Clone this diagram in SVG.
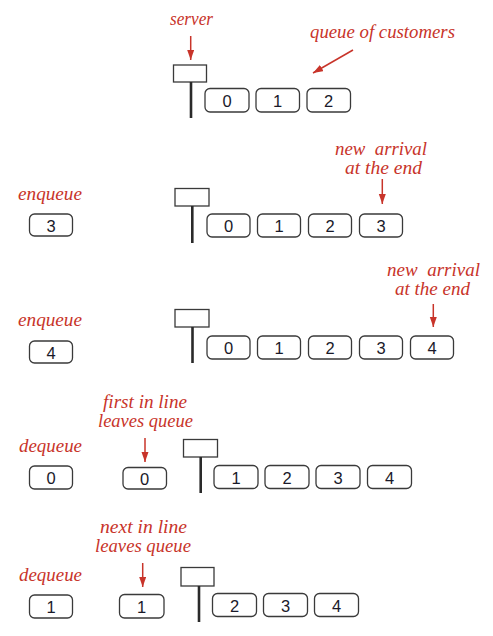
<svg xmlns="http://www.w3.org/2000/svg" width="493" height="636" viewBox="0 0 493 636">
<style>
.lbl{font-family:"Liberation Serif","DejaVu Serif",serif;font-style:italic;font-size:19px;fill:#c8342a}
.num{font-family:"Liberation Sans","DejaVu Sans",sans-serif;font-size:16.5px;fill:#1a1a2a;text-anchor:middle}
.cell{fill:#fff;stroke:#3a3a3a;stroke-width:1.3}
.srv{fill:#fff;stroke:#3a3a3a;stroke-width:1.3}
.pole{stroke:#2a2a2a;stroke-width:2.6}
.arr{stroke:#c8342a;stroke-width:1.5;fill:none}
</style>
<defs>
<marker id="ah" markerUnits="userSpaceOnUse" markerWidth="11" markerHeight="10" refX="10" refY="3.5" orient="auto">
<path d="M0,0 L10,3.5 L0,7 Z" fill="#c8342a"/>
</marker>
</defs>
<rect width="493" height="636" fill="#fff"/>

<g id="labels">
<text class="lbl" x="170" y="25" textLength="43" lengthAdjust="spacingAndGlyphs">server</text>
<text class="lbl" x="310" y="38" textLength="145" lengthAdjust="spacingAndGlyphs">queue of customers</text>
<text class="lbl" x="18" y="200" textLength="64" lengthAdjust="spacingAndGlyphs">enqueue</text>
<text class="lbl" x="335" y="155" textLength="92" lengthAdjust="spacingAndGlyphs" xml:space="preserve">new  arrival</text>
<text class="lbl" x="345" y="174" textLength="77" lengthAdjust="spacingAndGlyphs">at the end</text>
<text class="lbl" x="18" y="326" textLength="64" lengthAdjust="spacingAndGlyphs">enqueue</text>
<text class="lbl" x="387" y="276" textLength="93" lengthAdjust="spacingAndGlyphs" xml:space="preserve">new  arrival</text>
<text class="lbl" x="395" y="295" textLength="75" lengthAdjust="spacingAndGlyphs">at the end</text>
<text class="lbl" x="19" y="452" textLength="63" lengthAdjust="spacingAndGlyphs">dequeue</text>
<text class="lbl" x="103" y="408" textLength="84" lengthAdjust="spacingAndGlyphs">first in line</text>
<text class="lbl" x="98" y="427" textLength="95" lengthAdjust="spacingAndGlyphs">leaves queue</text>
<text class="lbl" x="19" y="581" textLength="63" lengthAdjust="spacingAndGlyphs">dequeue</text>
<text class="lbl" x="100" y="533" textLength="87" lengthAdjust="spacingAndGlyphs">next in line</text>
<text class="lbl" x="95" y="552" textLength="96" lengthAdjust="spacingAndGlyphs">leaves queue</text>
</g>

<g id="connectors">
<line class="arr" x1="190.7" y1="36" x2="190.7" y2="60" marker-end="url(#ah)"/>
<line class="arr" x1="353" y1="50" x2="313" y2="73" marker-end="url(#ah)"/>
<line class="arr" x1="382.3" y1="179" x2="382.3" y2="204" marker-end="url(#ah)"/>
<line class="arr" x1="433.3" y1="304" x2="433.3" y2="327" marker-end="url(#ah)"/>
<line class="arr" x1="145" y1="438" x2="145" y2="462" marker-end="url(#ah)"/>
<line class="arr" x1="142.7" y1="563" x2="142.7" y2="587" marker-end="url(#ah)"/>
</g>

<!-- Row 1 -->
<g id="server1"><rect class="srv" x="173.5" y="65" width="33" height="17"/><line class="pole" x1="191" y1="82" x2="191" y2="118"/></g>
<g id="r1c0"><rect class="cell" x="205" y="88.5" width="44" height="23.5" rx="5"/><text class="num" x="227" y="107">0</text></g>
<g id="r1c1"><rect class="cell" x="256" y="88.5" width="43.5" height="23.5" rx="5"/><text class="num" x="277.7" y="107">1</text></g>
<g id="r1c2"><rect class="cell" x="307" y="88.5" width="43.5" height="23.5" rx="5"/><text class="num" x="328.7" y="107">2</text></g>

<!-- Row 2 -->
<g id="r2new"><rect class="cell" x="29.5" y="214" width="43" height="22" rx="5"/><text class="num" x="51" y="231.5">3</text></g>
<g id="server2"><rect class="srv" x="175" y="188.5" width="34" height="17.5"/><line class="pole" x1="192.3" y1="206" x2="192.3" y2="243"/></g>
<g id="r2c0"><rect class="cell" x="207" y="214" width="43" height="23" rx="5"/><text class="num" x="228.5" y="232">0</text></g>
<g id="r2c1"><rect class="cell" x="257.5" y="214" width="43" height="23" rx="5"/><text class="num" x="279" y="232">1</text></g>
<g id="r2c2"><rect class="cell" x="308.5" y="214" width="43" height="23" rx="5"/><text class="num" x="330" y="232">2</text></g>
<g id="r2c3"><rect class="cell" x="359.5" y="214" width="43" height="23" rx="5"/><text class="num" x="381" y="232">3</text></g>

<!-- Row 3 -->
<g id="r3new"><rect class="cell" x="29.5" y="341" width="43" height="22" rx="5"/><text class="num" x="51" y="358.5">4</text></g>
<g id="server3"><rect class="srv" x="175" y="309.5" width="34" height="17.5"/><line class="pole" x1="192.5" y1="327" x2="192.5" y2="363"/></g>
<g id="r3c0"><rect class="cell" x="207" y="336" width="43" height="23" rx="5"/><text class="num" x="228.5" y="354">0</text></g>
<g id="r3c1"><rect class="cell" x="257.5" y="336" width="43" height="23" rx="5"/><text class="num" x="279" y="354">1</text></g>
<g id="r3c2"><rect class="cell" x="308.5" y="336" width="43" height="23" rx="5"/><text class="num" x="330" y="354">2</text></g>
<g id="r3c3"><rect class="cell" x="359.5" y="336" width="43" height="23" rx="5"/><text class="num" x="381" y="354">3</text></g>
<g id="r3c4"><rect class="cell" x="410.5" y="336" width="43" height="23" rx="5"/><text class="num" x="432" y="354">4</text></g>

<!-- Row 4 -->
<g id="r4out"><rect class="cell" x="29.5" y="466" width="43" height="23" rx="5"/><text class="num" x="51" y="484">0</text></g>
<g id="r4leave"><rect class="cell" x="123" y="467.5" width="43.5" height="21.5" rx="5"/><text class="num" x="144.7" y="484.5">0</text></g>
<g id="server4"><rect class="srv" x="183.5" y="439.5" width="34" height="17.5"/><line class="pole" x1="200.7" y1="457" x2="200.7" y2="493"/></g>
<g id="r4c1"><rect class="cell" x="214" y="465.5" width="44" height="23" rx="5"/><text class="num" x="236" y="483.5">1</text></g>
<g id="r4c2"><rect class="cell" x="265" y="465.5" width="44" height="23" rx="5"/><text class="num" x="287" y="483.5">2</text></g>
<g id="r4c3"><rect class="cell" x="316" y="465.5" width="44" height="23" rx="5"/><text class="num" x="338" y="483.5">3</text></g>
<g id="r4c4"><rect class="cell" x="367.5" y="465.5" width="44" height="23" rx="5"/><text class="num" x="389.5" y="483.5">4</text></g>

<!-- Row 5 -->
<g id="r5out"><rect class="cell" x="29.5" y="595" width="43" height="23" rx="5"/><text class="num" x="51" y="613">1</text></g>
<g id="r5leave"><rect class="cell" x="119.5" y="594.5" width="44.5" height="23.5" rx="5"/><text class="num" x="141.7" y="612.5">1</text></g>
<g id="server5"><rect class="srv" x="181" y="567.5" width="33" height="18.5"/><line class="pole" x1="199" y1="586" x2="199" y2="622"/></g>
<g id="r5c2"><rect class="cell" x="212.5" y="593.5" width="44" height="23" rx="5"/><text class="num" x="234.5" y="611.5">2</text></g>
<g id="r5c3"><rect class="cell" x="263.5" y="593.5" width="44" height="23" rx="5"/><text class="num" x="285.5" y="611.5">3</text></g>
<g id="r5c4"><rect class="cell" x="314.5" y="593.5" width="44" height="23" rx="5"/><text class="num" x="336.5" y="611.5">4</text></g>
</svg>
